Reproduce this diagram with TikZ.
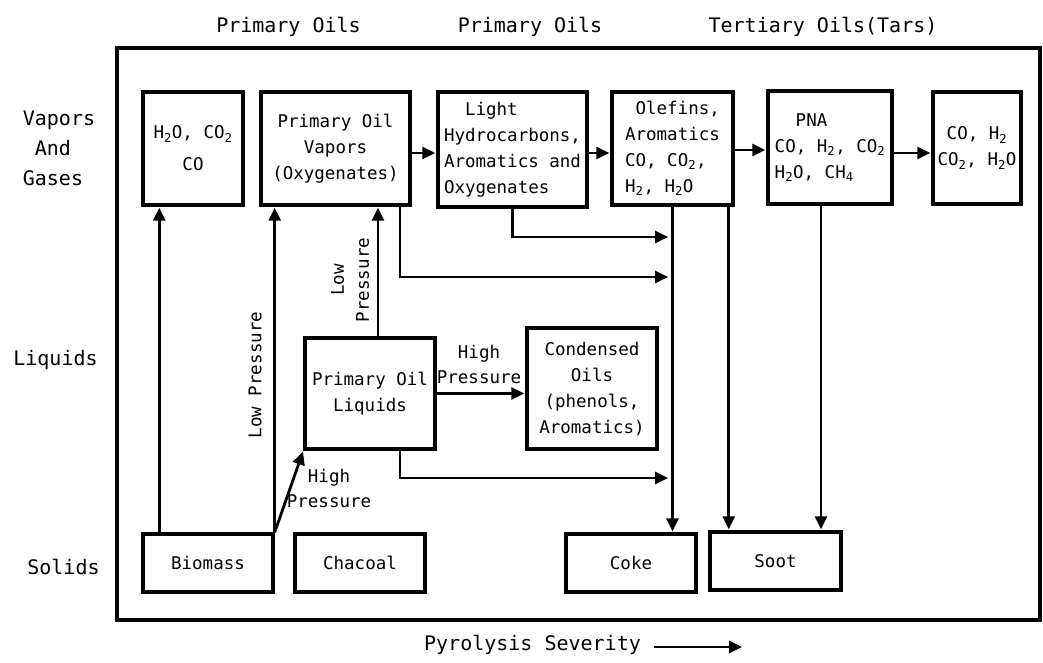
\documentclass[tikz,border=0pt]{standalone}
\usepackage{fontspec}
\setmainfont{DejaVu Sans Mono}
\usetikzlibrary{arrows.meta,calc}
\begin{document}
\begin{tikzpicture}[x=1pt,y=-1pt,
  box/.style={draw,line width=3.4pt,inner sep=0pt,align=center,font=\fontsize{17.5}{26}\selectfont},
  arr/.style={line width=2.8pt,shorten >=1pt,-{Triangle[length=13pt,width=12pt]}},
  lab/.style={font=\fontsize{20}{30}\selectfont},
  small/.style={font=\fontsize{17.5}{25}\selectfont}]
\useasboundingbox (0,0) rectangle (1043,662);
\draw[line width=4.5pt] (117,48) rectangle (1040,620);
% top labels
\node[lab] (t1) at (288.5,27) {Primary Oils};
\node[lab] (t2) at (530,27) {Primary Oils};
\node[lab] (t3) at (823,27) {Tertiary Oils(Tars)};
% left labels
\node[lab,align=left] (vag) at (59,148) {Vapors\\\hspace*{0.6em}And\\Gases};
\node[lab] (liqlab) at (55.5,360) {Liquids};
\node[lab] (sollab) at (63.5,567) {Solids};
% top row boxes
\node[box,minimum width=100pt,minimum height=113pt] (b1) at (193,148.5) {H\textsubscript{2}O, CO\textsubscript{2}\\[6pt]CO};
\node[box,minimum width=149pt,minimum height=113pt] (b2) at (335.5,148.5) {Primary Oil\\Vapors\\(Oxygenates)};
\node[box,align=left,minimum width=149pt,minimum height=115pt] (b3) at (512.5,149.5) {\hspace*{1.2em}Light\\Hydrocarbons,\\Aromatics and\\Oxygenates};
\node[box,align=left,minimum width=121pt,minimum height=113pt] (b4) at (672.5,148.5) {\hspace*{0.6em}Olefins,\\Aromatics\\CO, CO\textsubscript{2},\\H\textsubscript{2}, H\textsubscript{2}O};
\node[box,align=left,minimum width=124pt,minimum height=113pt] (b5) at (830,147.5) {\hspace*{1.2em}PNA\\CO, H\textsubscript{2}, CO\textsubscript{2}\\H\textsubscript{2}O, CH\textsubscript{4}};
\node[box,minimum width=88pt,minimum height=112pt] (b6) at (977,148) {CO, H\textsubscript{2}\\CO\textsubscript{2}, H\textsubscript{2}O};
% liquids
\node[box,minimum width=130pt,minimum height=111pt] (liq) at (370,393.5) {Primary Oil\\Liquids};
\node[box,minimum width=130pt,minimum height=121pt] (cond) at (592,388.5) {Condensed\\Oils\\(phenols,\\Aromatics)};
% solids
\node[box,minimum width=130pt,minimum height=58pt] (bio) at (208,563) {Biomass};
\node[box,minimum width=130pt,minimum height=58pt] (char) at (360,563) {Chacoal};
\node[box,minimum width=130pt,minimum height=58pt] (coke) at (631,563) {Coke};
\node[box,minimum width=131pt,minimum height=58pt] (soot) at (775.5,561) {Soot};
% connectors
\draw[arr] ([xshift=18pt]bio.north west) -- ([xshift=18pt]bio.north west |- b1.south);
\draw[arr] (bio.north east) -- (bio.north east |- b2.south);
\node[small,rotate=90] (lp1) at (255,375) {Low Pressure};
\draw[arr] (bio.north east) -- (liq.south west);
\node[small,align=center] (hp1) at (329,488) {High\\Pressure};
\draw[arr] ([xshift=8pt]liq.north) -- ([xshift=8pt]liq.north |- b2.south);
\node[small,rotate=90,align=center] (lp2) at (350,280) {Low\\Pressure};
\draw[arr] ([yshift=-4.5pt]b2.east) -- ([yshift=-4.5pt]b2.east -| b3.west);
\draw[arr] ([yshift=-3.5pt]b3.east) -- ([yshift=-3.5pt]b3.east -| b4.west);
\draw[arr] ([yshift=-1.5pt]b4.east) -- ([yshift=-1.5pt]b4.east -| b5.west);
\draw[arr] ([yshift=-5.5pt]b5.east) -- ([yshift=-5.5pt]b5.east -| b6.west);
\draw[arr] (liq.east) -- (liq.east -| cond.west);
\node[small,align=center] (hp2) at (479,364) {High\\Pressure};
\coordinate (endA) at (669,237);
\coordinate (endB) at (669,277);
\coordinate (endC) at (669,478);
\draw[arr] (b3.south) |- (endA);
\draw[arr] ([xshift=64.5pt]b2.south) |- (endB);
\draw[arr] ([xshift=30pt]liq.south) |- (endC);
\draw[arr] (b4.south) -- (b4.south |- coke.north);
\draw[arr] ([xshift=-6pt]b4.south east) -- ([xshift=-6pt]b4.south east |- soot.north);
\draw[arr] ([xshift=-9pt]b5.south) -- ([xshift=-9pt]b5.south |- soot.north);
% severity
\node[lab] (pyro) at (532.5,645) {Pyrolysis Severity};
\coordinate (sevEnd) at (743,647);
\draw[arr] ([xshift=10pt,yshift=-2pt]pyro.east) -- (sevEnd);
\end{tikzpicture}
\end{document}
